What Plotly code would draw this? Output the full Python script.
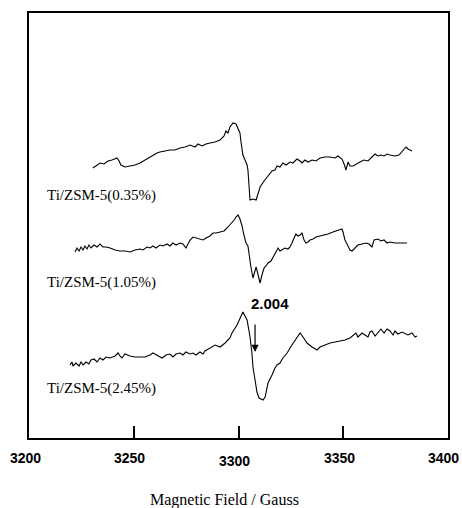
import plotly.graph_objects as go

# ---- data (Magnetic field in Gauss, EPR intensity in arbitrary units) ----
field_035 = [3230.5, 3232.5, 3233.9, 3235.8, 3237.7, 3239.6, 3241.1, 3242.0, 3243.0, 3243.9,
             3245.8, 3248.2, 3250.6, 3253.0, 3255.4, 3257.8, 3259.2, 3261.1, 3262.5, 3264.9,
             3267.3, 3269.7, 3272.1, 3274.5, 3276.9, 3279.2, 3280.7, 3282.6, 3284.5, 3286.4,
             3288.8, 3291.2, 3293.1, 3294.0, 3295.0, 3295.9, 3297.4, 3298.8, 3299.8, 3300.7,
             3301.2, 3302.1, 3303.1, 3304.1, 3304.5, 3305.0, 3305.5, 3306.9, 3308.4, 3309.3,
             3310.3, 3312.2, 3314.1, 3316.0, 3317.4, 3318.4, 3319.8, 3321.2, 3322.7, 3324.6,
             3326.0, 3327.9, 3329.4, 3330.3, 3331.7, 3333.2, 3335.1, 3337.0, 3338.9, 3341.3,
             3343.7, 3346.1, 3347.5, 3349.4, 3350.4, 3351.3, 3352.3, 3353.2, 3354.7, 3356.1,
             3358.0, 3359.9, 3361.8, 3363.7, 3365.2, 3366.6, 3368.0, 3369.5, 3370.9, 3372.3,
             3374.7, 3376.6, 3378.5, 3380.0, 3380.9, 3382.8]
signal_035 = [270, 273, 275, 274, 277, 278, 279, 280, 277, 273,
              271, 272, 273, 275, 278, 281, 283, 285, 286, 287,
              288, 288, 290, 291, 293, 291, 294, 292, 294, 295,
              296, 298, 302, 307, 305, 311, 315, 314, 310, 305,
              296, 283, 278, 273, 268, 253, 238, 239, 238, 244,
              251, 257, 262, 267, 268, 272, 271, 275, 273, 276,
              275, 279, 277, 275, 278, 276, 278, 277, 280, 281,
              281, 280, 282, 279, 274, 268, 276, 272, 272, 274,
              276, 278, 277, 281, 284, 282, 283, 282, 284, 283,
              282, 283, 288, 291, 289, 287]

field_105 = [3222.0, 3222.9, 3223.9, 3224.8, 3225.8, 3226.7, 3227.7, 3228.6, 3229.6, 3231.0,
             3232.5, 3233.9, 3235.3, 3236.8, 3238.7, 3241.1, 3243.4, 3245.8, 3248.2, 3250.6,
             3253.0, 3254.4, 3256.3, 3257.8, 3259.2, 3260.6, 3262.5, 3264.0, 3265.9, 3267.3,
             3268.7, 3270.2, 3272.1, 3273.5, 3274.9, 3275.9, 3276.9, 3278.3, 3279.7, 3281.6,
             3283.1, 3284.5, 3286.4, 3287.8, 3289.3, 3291.2, 3293.1, 3295.0, 3296.4, 3297.9,
             3298.8, 3299.8, 3300.7, 3301.7, 3302.6, 3303.6, 3304.5, 3305.0, 3306.0, 3306.9,
             3307.9, 3308.4, 3308.8, 3309.8, 3310.3, 3311.2, 3312.2, 3313.1, 3314.1, 3315.5,
             3316.9, 3317.9, 3318.9, 3319.8, 3320.8, 3322.2, 3323.6, 3324.6, 3325.5, 3326.5,
             3327.4, 3328.4, 3329.4, 3330.3, 3331.3, 3332.2, 3333.2, 3334.1, 3335.6, 3337.0,
             3338.9, 3341.3, 3342.7, 3345.1, 3346.5, 3348.5, 3349.4, 3349.9, 3350.8, 3351.8,
             3353.2, 3354.2, 3355.6, 3357.0, 3359.0, 3360.9, 3362.3, 3363.7, 3364.7, 3366.6,
             3368.0, 3369.5, 3370.9, 3372.3, 3374.7, 3377.1, 3380.4]
signal_105 = [186, 190, 187, 191, 188, 192, 189, 193, 190, 193,
              191, 194, 191, 191, 190, 188, 187, 187, 186, 188,
              189, 188, 191, 190, 192, 190, 193, 192, 194, 192,
              195, 193, 195, 194, 190, 194, 198, 201, 200, 199,
              198, 200, 202, 205, 205, 206, 207, 211, 214, 218,
              221, 223, 219, 212, 203, 195, 192, 183, 170, 160,
              168, 171, 168, 157, 155, 163, 170, 172, 175, 177,
              182, 187, 190, 187, 188, 190, 189, 191, 195, 200,
              204, 202, 203, 205, 198, 195, 196, 198, 199, 201,
              202, 203, 204, 206, 207, 208, 209, 206, 198, 194,
              188, 187, 190, 193, 194, 195, 194, 191, 198, 199,
              197, 198, 195, 196, 195, 195, 195]

field_245 = [3219.6, 3220.5, 3221.0, 3222.4, 3223.9, 3224.8, 3225.8, 3227.2, 3228.6, 3229.6,
             3231.0, 3232.5, 3233.9, 3235.3, 3236.8, 3238.7, 3241.1, 3242.5, 3243.4, 3244.4,
             3245.8, 3248.2, 3250.6, 3253.0, 3255.4, 3257.8, 3259.2, 3260.1, 3261.6, 3263.5,
             3265.4, 3267.3, 3268.7, 3270.2, 3272.1, 3273.5, 3274.9, 3276.9, 3278.3, 3279.7,
             3281.6, 3283.1, 3284.0, 3286.4, 3288.8, 3291.2, 3293.6, 3295.9, 3296.9, 3299.3,
             3300.7, 3302.1, 3304.1, 3305.5, 3306.4, 3306.9, 3307.9, 3308.8, 3309.8, 3311.7,
             3312.7, 3314.1, 3316.0, 3317.4, 3318.4, 3319.8, 3321.2, 3323.2, 3325.5, 3327.9,
             3329.4, 3330.8, 3332.7, 3335.1, 3337.5, 3338.9, 3341.3, 3343.7, 3346.1, 3348.5,
             3350.8, 3353.2, 3354.7, 3356.1, 3357.0, 3358.0, 3359.0, 3360.4, 3361.8, 3362.8,
             3363.7, 3365.2, 3366.6, 3368.0, 3369.5, 3370.9, 3372.3, 3373.8, 3374.7, 3376.1,
             3378.0, 3379.5, 3380.9, 3382.8, 3384.3, 3385.2]
signal_245 = [73, 76, 72, 75, 72, 76, 73, 76, 74, 78,
              79, 76, 80, 78, 81, 80, 82, 85, 82, 80,
              84, 82, 81, 81, 81, 83, 85, 84, 82, 80,
              83, 84, 81, 84, 85, 83, 86, 84, 85, 83,
              86, 84, 87, 90, 93, 91, 95, 100, 105, 113,
              120, 126, 118, 101, 85, 71, 58, 46, 40, 38,
              41, 55, 63, 70, 73, 75, 80, 85, 93, 101,
              105, 101, 95, 91, 88, 91, 93, 95, 96, 97,
              98, 100, 103, 105, 101, 103, 105, 103, 101, 106,
              107, 102, 105, 109, 105, 109, 107, 103, 107, 104,
              106, 104, 103, 105, 101, 102]

series_labels = ["Ti/ZSM-5(0.35%)", "Ti/ZSM-5(1.05%)", "Ti/ZSM-5(2.45%)"]
label_field = 3207.6
label_signal = [243, 156, 50]

tick_values = [3200, 3250, 3300, 3350, 3400]
tick_labels = ["3200", "3250", "3300", "3350", "3400"]

g_label = "2.004"
g_field = 3307.9
arrow_top, arrow_tip = 115, 86
g_label_pos = (3315.0, 135)

x_title = "Magnetic Field / Gauss"

# ---- figure ----
fig = go.Figure()
for xs, ys in [(field_035, signal_035), (field_105, signal_105), (field_245, signal_245)]:
    fig.add_trace(go.Scatter(x=xs, y=ys, mode="lines",
                             line=dict(color="black", width=1.1), showlegend=False,
                             hoverinfo="skip"))

serif = "Liberation Serif, Times New Roman, serif"
sans_bold = "Liberation Sans, Arial, sans-serif"

for txt, yv in zip(series_labels, label_signal):
    fig.add_annotation(x=label_field, y=yv, text=txt, showarrow=False,
                       xanchor="left", yanchor="middle",
                       font=dict(family=serif, size=15, color="black"))

# arrow marking g = 2.004
fig.add_annotation(x=g_field, y=arrow_tip, ax=g_field, ay=arrow_top,
                   xref="x", yref="y", axref="x", ayref="y", text="",
                   showarrow=True, arrowhead=2, arrowsize=1.2, arrowwidth=1.2,
                   arrowcolor="black")
fig.add_annotation(x=g_label_pos[0], y=g_label_pos[1], text="<b>%s</b>" % g_label,
                   showarrow=False, xanchor="center", yanchor="middle",
                   font=dict(family=sans_bold, size=15, color="black"))

# tick labels
for tv, tl in zip(tick_values, tick_labels):
    fig.add_annotation(x=tv, y=-0.054 if tv == 3300 else -0.047, xref="x", yref="paper",
                       text="<b>%s</b>" % tl, showarrow=False,
                       xshift=-5 if tv == 3400 else -4,
                       xanchor="center", yanchor="middle",
                       font=dict(family=sans_bold, size=14, color="black"))

fig.add_annotation(x=0.467, y=-0.146, xref="paper", yref="paper", text=x_title,
                   showarrow=False, xanchor="center", yanchor="middle",
                   font=dict(family=serif, size=16, color="black"))

fig.update_layout(
    width=462, height=508,
    margin=dict(l=29, r=14, t=13, b=70),
    paper_bgcolor="white", plot_bgcolor="white",
    xaxis=dict(range=[3200, 3400], showgrid=False, zeroline=False,
               showline=True, mirror=True, linecolor="black", linewidth=1.5,
               ticks="inside", tickvals=[3250, 3300, 3350], ticklen=12,
               tickwidth=1.5, tickcolor="black", showticklabels=False,
               automargin=False),
    yaxis=dict(range=[0, 425], showgrid=False, zeroline=False,
               showline=True, mirror=True, linecolor="black", linewidth=1.5,
               showticklabels=False, ticks="", automargin=False),
)

# remove the default page margin so the 462x508 figure fills the window exactly
fig.write_html("out.html", config={"displayModeBar": False},
               post_script="document.body.style.margin='0';document.body.style.overflow='hidden';")
